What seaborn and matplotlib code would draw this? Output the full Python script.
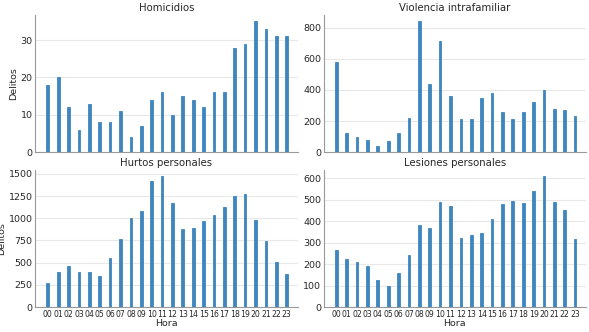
import pandas as pd
import seaborn as sns
import matplotlib
matplotlib.use("Agg")
import matplotlib.pyplot as plt

horas = ["%02d" % h for h in range(24)]

homicidios = [18, 20, 12, 6, 13, 8, 8, 11, 4, 7, 14, 16, 10, 15, 14, 12, 16, 16, 28, 29, 35, 33, 31, 31]
violencia = [580, 120, 95, 75, 40, 70, 125, 220, 840, 440, 715, 360, 210, 215, 345, 380, 255, 215, 260, 320, 400, 280, 270, 230]
hurtos = [275, 395, 465, 390, 400, 345, 555, 770, 1005, 1085, 1415, 1470, 1170, 875, 890, 970, 1040, 1130, 1245, 1270, 980, 745, 510, 370]
lesiones = [265, 222, 210, 190, 128, 100, 160, 242, 380, 370, 488, 470, 320, 335, 345, 408, 480, 493, 483, 540, 608, 487, 452, 315]

titulos = ["Homicidios", "Violencia intrafamiliar", "Hurtos personales", "Lesiones personales"]
series = [homicidios, violencia, hurtos, lesiones]

sns.set_style("ticks")
plt.rcParams["font.family"] = ["DejaVu Sans"]

fig, axes = plt.subplots(2, 2, figsize=(5.89, 3.32), dpi=100, sharex=True)
fig.subplots_adjust(left=0.06, right=0.995, bottom=0.075, top=0.955, wspace=0.1, hspace=0.13)

for ax, titulo, valores in zip(axes.flat, titulos, series):
    df = pd.DataFrame({"Hora": horas, "Delitos": valores})
    sns.barplot(data=df, x="Hora", y="Delitos", color="#3f86bf", width=0.26,
                saturation=1, ax=ax, zorder=3, edgecolor="#3f86bf", linewidth=0.6)
    ax.set_title(titulo, fontsize=7.3, pad=3)
    ax.yaxis.grid(True, color="#e8e8e8", linewidth=0.8, zorder=0)
    ax.set_axisbelow(True)
    ax.set_xlim(-1.2, 24.05)
    ax.tick_params(axis="y", labelsize=6.8, length=0, pad=2)
    ax.tick_params(axis="x", labelsize=5.6, length=0, pad=2)
    sns.despine(ax=ax)
    for sp in ax.spines.values():
        sp.set_color("#999999")
        sp.set_linewidth(0.8)
    ax.set_xlabel("")
    ax.set_ylabel("")

axes[0, 0].set_ylabel("Delitos", fontsize=6.8, labelpad=2)
axes[1, 0].set_ylabel("Delitos", fontsize=6.8, labelpad=2)
axes[1, 0].set_xlabel("Hora", fontsize=6.8, labelpad=0)
axes[1, 1].set_xlabel("Hora", fontsize=6.8, labelpad=0)
axes[0, 0].set_yticks([0, 10, 20, 30])
axes[0, 1].set_yticks([0, 200, 400, 600, 800])
axes[1, 0].set_yticks([0, 250, 500, 750, 1000, 1250, 1500])
axes[1, 1].set_yticks([0, 100, 200, 300, 400, 500, 600])

fig.savefig("out.png", dpi=100)
